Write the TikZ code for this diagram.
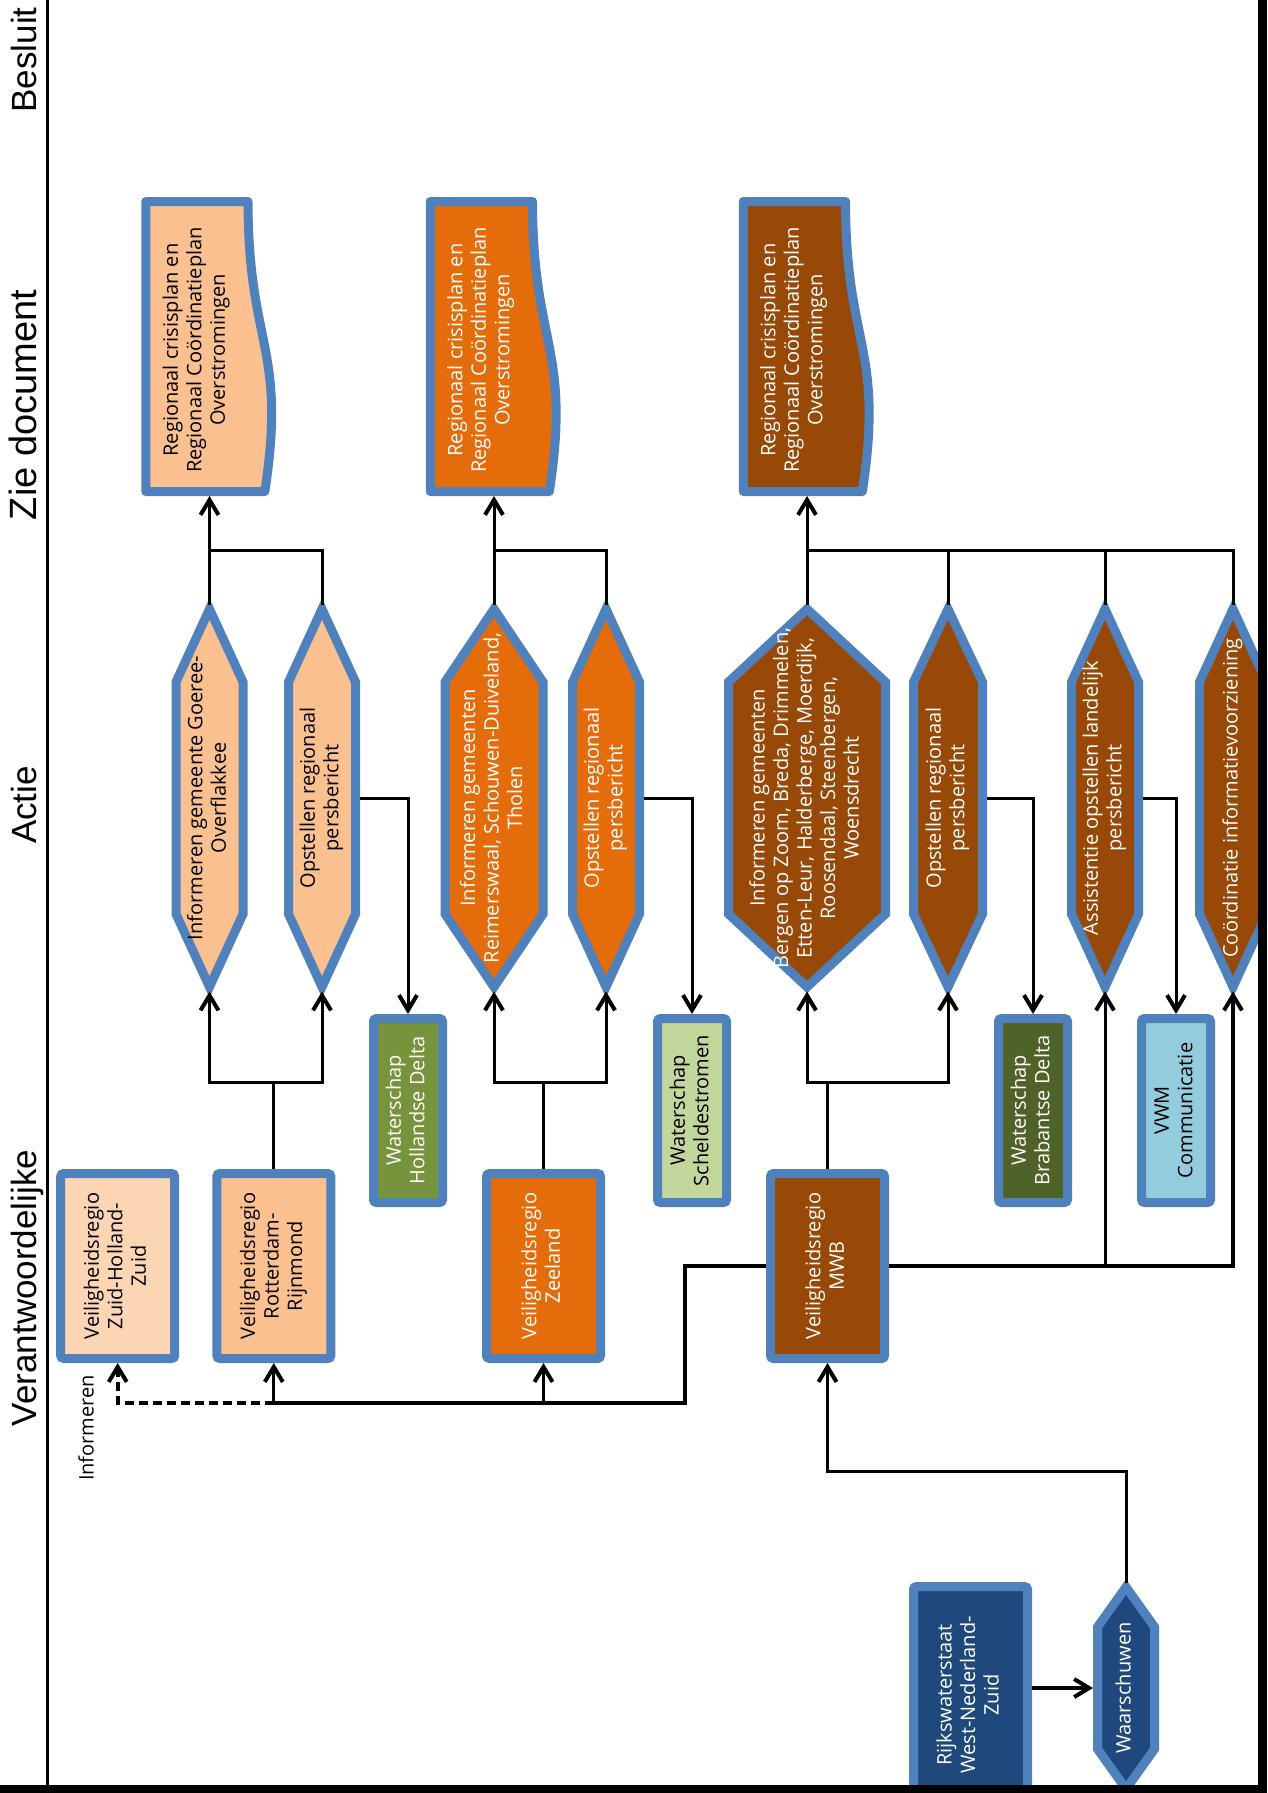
\documentclass[tikz,border=0pt]{standalone}
\usepackage{fontspec}
\setmainfont{Open Sans}
\newfontfamily\headfont{Liberation Sans}
\usetikzlibrary{arrows.meta}

\definecolor{rimblue}{HTML}{4F81BD}
\definecolor{peach}{HTML}{FAC090}
\definecolor{palepeach}{HTML}{FCD5B5}
\definecolor{zeeorange}{HTML}{E46C0A}
\definecolor{mwbbrown}{HTML}{984807}
\definecolor{olive}{HTML}{77933C}
\definecolor{palegreen}{HTML}{C3D69B}
\definecolor{darkolive}{HTML}{4F6228}
\definecolor{skyblue}{HTML}{93CDDD}
\definecolor{rwsblue}{HTML}{1F497D}

\newcommand{\boxfont}{\fontsize{20}{23.5}\selectfont}
\newcommand{\vtext}[1]{\rotatebox{90}{\begin{tabular}{@{}c@{}}#1\end{tabular}}}

% hexagon: name, x, y, half width, half height, tip, fill, text colour, text
\newcommand{\hexnode}[9]{%
  \filldraw[rim, line join=miter, fill=#7] (#2,#3-#5) -- (#2+#4,#3-#5+#6) -- (#2+#4,#3+#5-#6)
    -- (#2,#3+#5) -- (#2-#4,#3+#5-#6) -- (#2-#4,#3-#5+#6) -- cycle;
  \node[geo, minimum width=2*#4, minimum height=2*#5, text=#8] (#1) at (#2,#3) {\vtext{#9}};
}
% document: name, left x, fill, text colour, text
\newcommand{\docnode}[5]{%
  \filldraw[rim, line join=round, fill=#3] (#2,201.5) -- (#2+102.3,201.5)
    .. controls (#2+102.3,346.5) and (#2+141.2,346.5) .. (#2+119.1,491.5) -- (#2,491.5) -- cycle;
  \node[geo, minimum width=127.5, minimum height=290] (#1) at (#2+63.75,346.5) {};
  \node[text=#4, font=\boxfont] at (#2+51,350) {\vtext{#5}};
}

\tikzset{
  rim/.style={draw=rimblue, line width=9pt},
  geo/.style={inner sep=0pt, outer sep=4.5pt, font=\boxfont},
  box/.style={draw=rimblue, line width=9pt, rounded corners=3pt, inner sep=0pt,
    outer sep=4.5pt, font=\boxfont},
  vrbox/.style={box, minimum width=114, minimum height=185},
  wsbox/.style={box, minimum width=69, minimum height=184},
  head/.style={rotate=90, anchor=base, inner sep=0pt,
    font=\headfont\fontsize{35}{40}\selectfont},
  conn/.style={line width=3pt},
  bold/.style={line width=4pt},
  >={Straight Barb[length=15pt, width=18pt, line width=4pt]}
}

\begin{document}
\begin{tikzpicture}[x=1pt, y=-1pt]
  \useasboundingbox (0,0) rectangle (1267,1793);
  \clip (0,0) rectangle (1267,1793);

  % lane headings
  \draw[line width=3pt] (47,0) -- (47,1793);
  \node[head] (besluit) at (36,60) {Besluit};
  \node[head, font=\headfont\fontsize{38}{42}\selectfont] (zie) at (36,405) {Zie document};
  \node[head] (actie) at (36,805) {Actie};
  \node[head] (verantw) at (36,1288) {Verantwoordelijke};

  % documents
  \docnode{d1}{145.75}{peach}{black}{Regionaal crisisplan en\\Regionaal Coördinatieplan\\Overstromingen}
  \docnode{d2}{430.25}{zeeorange}{white}{Regionaal crisisplan en\\Regionaal Coördinatieplan\\Overstromingen}
  \docnode{d3}{743.25}{mwbbrown}{white}{Regionaal crisisplan en\\Regionaal Coördinatieplan\\Overstromingen}

  % actions
  \hexnode{h1a}{209.5}{798}{33.5}{189}{73}{peach}{black}{Informeren gemeente Goeree-\\Overflakkee}
  \hexnode{h1b}{322}{798}{33.5}{189}{73}{peach}{black}{Opstellen regionaal\\persbericht}
  \hexnode{h2a}{494}{798}{49}{189}{73}{zeeorange}{white}{Informeren gemeenten\\Reimerswaal, Schouwen-Duiveland,\\Tholen}
  \hexnode{h2b}{606}{798}{33.5}{189}{73}{zeeorange}{white}{Opstellen regionaal\\persbericht}
  \hexnode{h3a}{807}{798}{78.5}{189}{73}{mwbbrown}{white}{Informeren gemeenten\\Bergen op Zoom, Breda, Drimmelen,\\Etten-Leur, Halderberge, Moerdijk,\\Roosendaal, Steenbergen,\\Woensdrecht}
  \hexnode{h3b}{948}{798}{34.5}{189}{73}{mwbbrown}{white}{Opstellen regionaal\\persbericht}
  \hexnode{h3c}{1105}{798}{33.5}{189}{73}{mwbbrown}{white}{Assistentie opstellen landelijk\\persbericht}
  \hexnode{h3d}{1233}{798}{33.5}{189}{73}{mwbbrown}{white}{Coördinatie informatievoorziening}
  \hexnode{wrn}{1126}{1688}{28.5}{101}{40}{rwsblue}{white}{Waarschuwen}

  % waterschappen
  \node[wsbox, fill=olive, text=white] (whd) at (408,1110.5) {\vtext{Waterschap\\Hollandse Delta}};
  \node[wsbox, fill=palegreen] (wss) at (692,1110.5) {\vtext{Waterschap\\Scheldestromen}};
  \node[wsbox, fill=darkolive, text=white] (wbd) at (1033,1110.5) {\vtext{Waterschap\\Brabantse Delta}};
  \node[wsbox, fill=skyblue] (vwm) at (1176,1110.5) {\vtext{VWM\\Communicatie}};

  % veiligheidsregio's
  \node[vrbox, fill=palepeach] (zhz) at (117.7,1266) {\vtext{Veiligheidsregio\\Zuid-Holland-\\Zuid}};
  \node[vrbox, fill=peach] (rr) at (273.8,1266) {\vtext{Veiligheidsregio\\Rotterdam-\\Rijnmond}};
  \node[vrbox, fill=zeeorange, text=white] (zld) at (543.5,1266) {\vtext{Veiligheidsregio\\Zeeland}};
  \node[vrbox, fill=mwbbrown, text=white] (mwb) at (827.5,1266) {\vtext{Veiligheidsregio\\MWB}};
  \node[box, fill=rwsblue, text=white, minimum width=114, minimum height=217] (rws) at (970.5,1695)
    {\vtext{Rijkswaterstaat\\West-Nederland-\\Zuid}};

  % group 1
  \coordinate (up1) at (209.5,550);
  \coordinate (lo1) at (273.8,1082);
  \draw[conn,->] (h1a.north) -- (up1) -- (d1.south);
  \draw[conn] (h1b.north) |- (up1);
  \draw[conn] (rr.north) -- (lo1);
  \draw[conn,->] (lo1) -| (h1a.south);
  \draw[conn,->] (lo1) -| (h1b.south);
  \draw[conn,->] (h1b.east) -| (whd.north);

  % group 2
  \coordinate (up2) at (494,550);
  \coordinate (lo2) at (543.5,1082);
  \draw[conn,->] (h2a.north) -- (up2) -- (d2.south);
  \draw[conn] (h2b.north) |- (up2);
  \draw[conn] (zld.north) -- (lo2);
  \draw[conn,->] (lo2) -| (h2a.south);
  \draw[conn,->] (lo2) -| (h2b.south);
  \draw[conn,->] (h2b.east) -| (wss.north);

  % group 3
  \coordinate (up3) at (807,550);
  \coordinate (lo3) at (827.5,1082);
  \draw[conn,->] (h3a.north) -- (up3) -- (d3.south);
  \draw[conn] (h3d.north) |- (up3);
  \draw[conn] (h3b.north) -- (h3b.north |- up3);
  \draw[conn] (h3c.north) -- (h3c.north |- up3);
  \draw[conn] (mwb.north) -- (lo3);
  \draw[conn,->] (lo3) -| (h3a.south);
  \draw[conn,->] (lo3) -| (h3b.south);
  \draw[conn,->] (h3b.east) -| (wbd.north);
  \draw[conn,->] (h3c.east) -| (vwm.north);
  \draw[bold,->] (mwb.east) -| (h3d.south);
  \draw[conn,->] (h3c.south |- mwb.east) -- (h3c.south);

  % informeren
  \coordinate (inf) at (685,1403);
  \draw[bold] (mwb.west) -| (inf) -- (rr.south |- inf);
  \draw[conn,->] (rr.south |- inf) -- (rr.south);
  \draw[conn,->] (zld.south |- inf) -- (zld.south);
  \draw[bold, dash pattern=on 9pt off 5pt, ->] (rr.south |- inf) -| (zhz.south);
  \node[rotate=90, inner sep=0pt, font=\boxfont] (inflabel) at (86,1428) {Informeren};

  % waarschuwen
  \coordinate (warn) at (827.5,1471);
  \draw[conn,->] (wrn.north) |- (warn) -- (mwb.south);
  \draw[bold,->] (rws.east |- wrn) -- (wrn.west);

  % frame
  \fill (1258,0) rectangle (1267,1793);
  \fill (0,1785) rectangle (1267,1793);
\end{tikzpicture}
\end{document}
